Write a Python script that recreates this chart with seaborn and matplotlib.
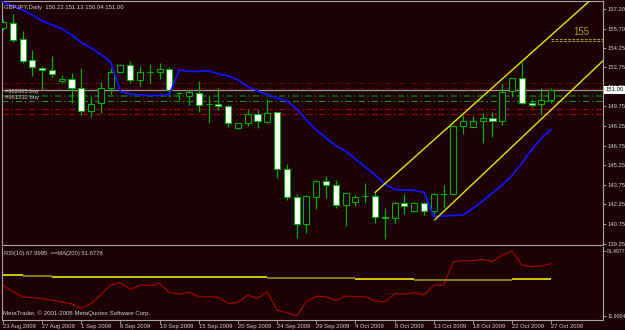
import numpy as np
import matplotlib
matplotlib.use("Agg")
import matplotlib.pyplot as plt
import matplotlib.transforms as mtransforms
import seaborn as sns

# GBPJPY daily, 23 Aug - 27 Oct 2009
opens = [155.75, 156.11, 154.88, 153.30, 152.71, 152.53, 151.69, 151.82, 151.18, 149.42,
         149.99, 151.13, 152.40, 152.92, 151.77, 152.37, 152.36, 152.61, 150.74, 150.57,
         150.80, 149.89, 149.93, 149.80, 148.07, 148.45, 149.17, 148.58, 149.30, 144.96,
         142.84, 140.73, 142.84, 144.05, 143.76, 142.20, 142.41, 142.88, 142.89, 141.30,
         141.19, 142.33, 141.74, 142.33, 141.74, 143.01, 143.02, 148.25, 148.20, 148.63,
         148.84, 148.63, 150.93, 151.90, 149.99, 149.91, 150.22]
highs = [156.40, 156.82, 155.52, 154.06, 152.80, 153.60, 152.15, 152.30, 152.71, 150.49,
         151.64, 152.66, 152.95, 153.22, 152.86, 152.97, 153.09, 152.74, 150.87, 151.00,
         151.69, 150.54, 151.13, 149.85, 148.50, 149.53, 149.47, 150.29, 149.35, 145.34,
         143.02, 142.95, 144.10, 144.42, 144.12, 143.15, 142.97, 143.86, 143.22, 141.95,
         142.46, 143.02, 142.40, 142.46, 143.10, 143.73, 148.30, 149.09, 149.04, 149.27,
         149.32, 151.51, 151.94, 153.17, 150.29, 151.13, 151.13]
lows = [155.60, 154.70, 153.04, 152.07, 151.00, 152.00, 151.51, 150.00, 149.09, 148.96,
        149.27, 150.70, 152.35, 151.56, 151.31, 151.56, 151.84, 150.49, 150.24, 149.85,
        149.34, 148.50, 149.47, 148.19, 148.00, 148.25, 148.12, 148.45, 144.25, 142.59,
        139.66, 140.09, 141.90, 142.72, 141.99, 140.62, 142.15, 142.38, 140.80, 139.58,
        140.80, 141.52, 141.68, 141.44, 141.50, 141.95, 143.00, 147.61, 148.20, 146.97,
        147.38, 148.32, 150.49, 149.91, 149.73, 149.09, 150.04]
closes = [156.20, 154.83, 153.24, 152.74, 152.51, 152.24, 151.84, 151.13, 149.42, 149.93,
          151.13, 152.40, 152.89, 151.77, 152.40, 152.38, 152.61, 151.00, 150.76, 150.83,
          149.85, 149.91, 149.78, 148.45, 148.45, 149.17, 148.63, 149.22, 144.93, 142.84,
          140.73, 142.89, 144.05, 143.76, 142.20, 143.10, 142.79, 142.92, 141.31, 141.22,
          142.33, 142.15, 142.33, 141.76, 143.04, 143.04, 148.25, 148.63, 148.63, 148.84,
          148.65, 150.87, 151.90, 150.03, 149.85, 150.24, 151.00]

# blue moving average on the price window
ma_blue = [157.74, 157.43, 157.12, 156.74, 156.28, 155.98, 155.71, 155.21, 154.64, 154.22,
           153.72, 153.14, 150.87, 150.70, 150.62, 150.58, 150.58, 150.66, 152.53, 152.42,
           152.42, 152.48, 152.23, 152.07, 151.77, 151.26, 150.93, 150.62, 150.39, 150.16,
           149.55, 148.71, 147.94, 147.33, 146.72, 146.34, 145.72, 145.11, 144.50, 143.81,
           143.39, 143.35, 143.33, 143.16, 141.32, 141.36, 141.40, 141.44, 141.94, 142.51,
           143.12, 143.73, 144.46, 145.42, 146.41, 147.33, 147.98]

# RSI(10) sub window
rsi = [44.6, 38.1, 32.3, 31.5, 30.5, 28.8, 26.9, 25.0, 20.2, 25.3,
       34.9, 45.1, 47.6, 40.5, 45.1, 44.4, 46.7, 37.1, 35.5, 37.3,
       32.3, 32.6, 31.7, 25.5, 26.4, 34.4, 30.9, 37.9, 18.3, 15.4,
       11.9004, 27.4, 33.0, 32.6, 28.3, 33.3, 32.6, 32.6, 28.0, 26.9,
       36.0, 35.5, 36.9, 34.4, 45.1, 45.1, 70.0, 71.1, 71.1, 72.6,
       70.0, 77.2, 81.4977, 66.5, 64.7, 65.4, 67.9995]
# MA(200) on RSI, drawn in runs (start bar, end bar, value, colour)
rsi_ma_start = [-0.5, 2, 5, 27, 30, 36, 42, 52]
rsi_ma_end = [2, 5, 27, 30, 36, 42, 52, 56]
rsi_ma_value = [55.5, 54.9, 53.4, 52.75, 52.2, 51.7, 50.6, 51.6778]
rsi_ma_bright = [True, False, True, False, False, True, False, True]

date_labels = ["23 Aug 2009", "27 Aug 2009", "1 Sep 2009", "6 Sep 2009", "10 Sep 2009",
               "15 Sep 2009", "20 Sep 2009", "24 Sep 2009", "29 Sep 2009", "4 Oct 2009",
               "8 Oct 2009", "13 Oct 2009", "18 Oct 2009", "22 Oct 2009", "27 Oct 2009"]
price_ticks = [157.20, 155.70, 154.25, 152.75, 151.25, 149.75, 148.25, 146.75,
               145.25, 143.75, 142.25, 140.75, 139.25]
rsi_ticks = [11.9004, 81.4977]

# order / stop lines
order_levels = [150.57, 150.16]
order_names = ["#962665 buy", "#961232 buy"]
stop_levels = [151.52, 151.18, 149.53, 149.14]
bid = 151.00

# hand drawn channel (bar, price anchors) and the "155" target
upper_x = [38, 59]
upper_y = [143.15, 157.20]
lower_x = [44.1, 61.2]
lower_y = [141.06, 153.17]
target_levels = [154.90, 154.75]
target_start = 56

BG = "#1c0004"
FRAME = "#a8a8a8"
TXT = "#d2d2d2"
CANDLE = "#00b000"

sns.set_theme(style="dark", rc={"axes.facecolor": BG, "figure.facecolor": BG})
plt.rcParams["font.family"] = ["Liberation Sans", "DejaVu Sans"]
plt.rcParams["lines.scale_dashes"] = False

fig = plt.figure(figsize=(6.25, 3.3), dpi=100)
ax = fig.add_axes([0.0032, 0.2561, 0.9616, 0.7409])
ax_rsi = fig.add_axes([0.0032, 0.0318, 0.9616, 0.2212])

bars = np.arange(len(closes))
o, h, l, c = map(np.array, (opens, highs, lows, closes))
bear = c < o

# candles
ax.vlines(bars, l, h, color=CANDLE, lw=0.9, zorder=3)
ax.bar(bars, np.abs(c - o), bottom=np.minimum(o, c), width=0.62,
       color=np.where(bear, "white", BG), edgecolor=CANDLE, linewidth=0.8, zorder=4)

# stop and order lines
dashdot = (0, (4.5, 2, 1, 2))
for lvl, col in zip(stop_levels, ["#6a0000", "#5a0000", "#a80000", "#a80000"]):
    ax.axhline(lvl, color=col, lw=0.8, linestyle=dashdot, zorder=2)
ax.axhline(order_levels[0], color="#0d5a0d", lw=1.5, linestyle=dashdot, zorder=2)
ax.axhline(order_levels[1], color="#2a8a2a", lw=0.8, linestyle=dashdot, zorder=2)
ax.axhline(bid, color="#9a9a9a", lw=0.9, zorder=2)
for lvl, name in zip(order_levels, order_names):
    ax.text(0.25, lvl + 0.29, name, color=TXT, fontsize=4.2, va="center", zorder=6)

# moving average
sns.lineplot(x=bars, y=ma_blue, ax=ax, color="#1414ff", lw=1.3, zorder=5)

# channel lines (rays, clipped by the axes)
for tx, ty in ((upper_x, upper_y), (lower_x, lower_y)):
    slope = (ty[1] - ty[0]) / (tx[1] - tx[0])
    xs = np.array([tx[0], 65])
    ax.plot(xs, ty[0] + slope * (xs - tx[0]), color="#e8e800", lw=1.0, zorder=5)

ax.hlines(target_levels, target_start, 62, color="#9b9b1e", lw=0.8,
          linestyles=[(0, (2, 1))], zorder=5)
ax.text(59.1, 155.45, "155", ha="center", va="center", color="#a0a020",
        fontsize=7, zorder=6)

ax.set_xlim(-0.1, 61.29)
ax.set_ylim(139.10, 157.81)
ax.set_xticks([])
ax.yaxis.tick_right()
ax.set_yticks(price_ticks)
ax.set_yticklabels([f"{p:.2f}" for p in price_ticks])
ax.tick_params(axis="y", right=True, left=False, length=2, width=0.6, color=FRAME,
               labelcolor=TXT, labelsize=4.2, pad=1)
ax.set_xlabel("")
ax.set_ylabel("")
for sp in ax.spines.values():
    sp.set_visible(True)
    sp.set_color(FRAME)
    sp.set_linewidth(0.8)

trans = mtransforms.blended_transform_factory(ax.transAxes, ax.transData)
ax.text(1.004, bid, f"{bid:.2f}", transform=trans, fontsize=4.2, color="black",
        va="center", ha="left", clip_on=False, zorder=10,
        bbox=dict(boxstyle="square,pad=0.25", fc="white", ec="white", lw=0))

title = f"GBPJPY,Daily  {o[-1]:.2f} {h[-1]:.2f} {l[-1]:.2f} {c[-1]:.2f}"
fig.text(4 / 625, 1 - 7 / 330, title, color=TXT, fontsize=4.3, va="center")

# RSI window
sns.lineplot(x=bars, y=rsi, ax=ax_rsi, color="#a00000", lw=0.9)
for s, e, v, bright in zip(rsi_ma_start, rsi_ma_end, rsi_ma_value, rsi_ma_bright):
    ax_rsi.hlines(v, s, e, color="#ffff00" if bright else "#a0a010", lw=1.1)

ax_rsi.set_xlim(-0.1, 61.29)
ax_rsi.set_ylim(8.16, 86.3)
ax_rsi.yaxis.tick_right()
ax_rsi.set_yticks(rsi_ticks)
ax_rsi.set_yticklabels([f"{v:.4f}" for v in rsi_ticks])
ax_rsi.tick_params(axis="y", right=True, left=False, length=2, width=0.6, color=FRAME,
                   labelcolor=TXT, labelsize=3.7, pad=1)
ax_rsi.set_xticks(bars[::4])
ax_rsi.set_xticklabels(date_labels, ha="left")
ax_rsi.tick_params(axis="x", bottom=True, length=3, width=0.6, color=FRAME,
                   labelcolor=TXT, labelsize=4.2, pad=0.5)
ax_rsi.set_xlabel("")
ax_rsi.set_ylabel("")
for name, sp in ax_rsi.spines.items():
    sp.set_visible(name != "top")
    sp.set_color(FRAME)
    sp.set_linewidth(0.8)

fig.text(4 / 625, 1 - 253 / 330, f"RSI(10) {rsi[-1]:.4f}  ==MA(200) {rsi_ma_value[-1]:.4f}",
         color=TXT, fontsize=4.25, va="center")
fig.text(3 / 625, 1 - 313 / 330, "MetaTrader, \u00a9 2001-2008 MetaQuotes Software Corp.",
         color=TXT, fontsize=4.45, va="center")

fig.savefig("out.png", dpi=100, facecolor=BG)
